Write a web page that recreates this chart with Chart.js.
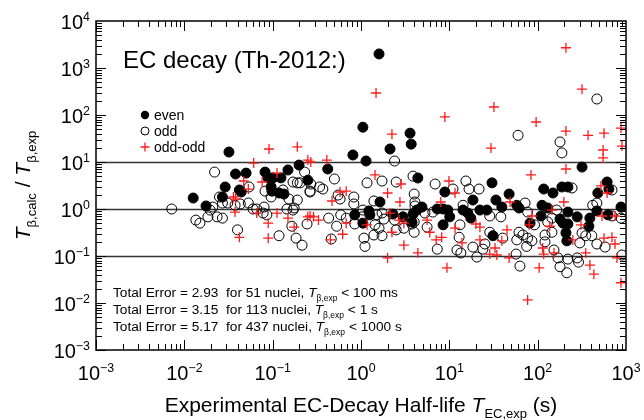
<!DOCTYPE html>
<html>
<head>
<meta charset="utf-8">
<script src="https://cdn.jsdelivr.net/npm/chart.js@4.4.0/dist/chart.umd.min.js"></script>
<style>
  html, body { margin: 0; padding: 0; background: #fff; }
  #wrap { width: 644px; height: 420px; position: relative; }
</style>
</head>
<body>
<div id="wrap"><canvas id="ecChart"></canvas></div>
<script>
// [T_EC,exp (s), T_calc / T_exp]
const evenPoints = [
  [0.0126, 1.71], [0.0176, 1.16], [0.032, 16.3], [0.038, 5.55], [0.050, 5.8],
  [0.082, 6.1], [0.089, 4.57], [0.101, 4.6], [0.124, 4.6], [0.149, 6.76],
  [0.199, 8.6], [0.25, 4.1], [0.029, 2.94], [0.042, 2.54], [0.044, 2.3],
  [0.096, 2.94], [0.098, 2.4], [0.118, 2.19], [0.134, 2.08], [0.027, 1.8],
  [1.05, 55], [3.59, 41], [2.13, 18.9], [3.7, 24], [0.81, 14.1],
  [1.14, 10.5], [0.42, 7.1], [1.64, 1.41], [0.85, 0.75], [1.23, 0.91],
  [1.26, 0.75], [2.3, 0.78], [2.99, 0.68], [1.05, 0.5], [3.77, 0.53],
  [1.6, 1990], [4.4, 4.57], [8.9, 2.3], [30.4, 3.6], [18.5, 1.55],
  [33.7, 1.55], [47.5, 2.08], [4.9, 1.1], [4.3, 0.95], [3.88, 0.78],
  [7.3, 1.0], [8.5, 1.0], [9.6, 0.95], [10.1, 0.68], [8.5, 0.46],
  [14.3, 0.95], [16.2, 0.82], [17.5, 0.64], [22.2, 0.95], [26.6, 0.95],
  [39.3, 1.1], [31.2, 0.27], [318, 7.8], [117, 2.66], [149, 2.19],
  [188, 2.94], [220, 2.94], [611, 3.75], [640, 2.66], [480, 2.19],
  [58, 1.2], [61.5, 1.05], [112, 1.2], [130, 1.05], [109, 0.71],
  [220, 0.86], [179, 0.61], [280, 0.68], [390, 0.64], [468, 0.91],
  [625, 0.75], [878, 1.1], [82, 0.5], [193, 0.5], [220, 0.48],
  [380, 0.43], [209, 0.31], [214, 0.21]
];

const oddPoints = [
  [0.0072, 1.0], [0.0135, 0.58], [0.015, 0.5], [0.022, 6.1], [0.17, 3.75],
  [0.19, 3.6], [0.204, 3.6], [0.23, 6.1], [0.054, 2.94], [0.082, 2.4],
  [0.096, 1.8], [0.131, 2.54], [0.153, 1.63], [0.19, 1.55], [0.265, 2.3],
  [0.025, 1.8], [0.031, 1.34], [0.0375, 1.2], [0.043, 1.28], [0.053, 1.34],
  [0.027, 1.34], [0.021, 1.1], [0.0196, 0.95], [0.0185, 0.68], [0.0235, 0.68],
  [0.027, 0.64], [0.06, 1.0], [0.066, 1.0], [0.08, 1.1], [0.078, 0.82],
  [0.086, 0.75], [0.145, 1.0], [0.17, 0.95], [0.175, 1.05], [0.245, 0.48],
  [0.04, 0.36], [0.118, 0.27], [0.165, 0.43], [0.184, 0.24], [0.215, 0.17],
  [2.4, 10.5], [0.50, 4.35], [1.17, 3.6], [1.73, 3.94], [2.5, 3.75],
  [0.27, 3.4], [0.34, 2.94], [0.265, 2.4], [0.37, 2.66], [0.55, 1.98],
  [0.58, 1.63], [0.83, 1.8], [0.83, 1.28], [1.4, 1.48], [4.08, 1.41],
  [0.43, 0.64], [0.53, 0.43], [0.59, 0.75], [0.68, 0.64], [0.85, 0.48],
  [1.05, 0.95], [1.03, 0.68], [1.52, 0.75], [1.73, 0.82], [1.82, 0.61],
  [2.4, 0.58], [1.44, 0.46], [1.6, 0.39], [1.4, 0.28], [1.73, 0.27],
  [2.5, 0.36], [3.06, 0.39], [3.77, 0.48], [1.08, 0.24], [1.11, 0.16],
  [0.46, 0.23], [60, 37], [3.88, 5.0], [4.0, 2.08], [6.9, 3.4],
  [11, 2.66], [15.4, 3.94], [16.7, 2.66], [21.7, 2.66], [4.08, 1.16],
  [6.5, 0.86], [5.3, 0.82], [5.6, 0.41], [7.3, 0.14], [4.0, 0.53],
  [4.0, 0.32], [14.3, 1.2], [28.7, 0.71], [38.3, 0.68], [13.2, 0.46],
  [12.9, 0.25], [12.2, 0.134], [13.5, 0.116], [18.5, 0.155], [20.5, 0.095],
  [28.7, 0.32], [25.3, 0.18], [24, 0.14], [40.3, 0.24], [58, 0.22],
  [57, 0.11], [63, 0.061], [179, 26.7], [188, 15.6], [245, 2.8],
  [694, 2.54], [72, 1.34], [77, 0.86], [164, 0.95], [145, 0.64],
  [420, 1.2], [468, 1.34], [878, 0.64], [694, 0.71], [92, 0.46],
  [130, 0.53], [318, 0.31], [145, 0.32], [61.5, 0.32], [68, 0.28],
  [77, 0.24], [86, 0.21], [75, 0.16], [121, 0.28], [121, 0.2],
  [153, 0.134], [300, 0.19], [350, 0.27], [410, 0.27], [468, 0.18],
  [580, 0.155], [170, 0.091], [220, 0.086], [280, 0.091], [290, 0.074],
  [179, 0.059], [214, 0.044], [900, 0.105], [468, 219]
];

const oddOddPoints = [
  [0.091, 18.9], [0.19, 21], [0.061, 9.5], [0.25, 11], [0.047, 3.94],
  [0.112, 5.8], [0.076, 3.75], [0.053, 2.66], [0.036, 1.8], [0.038, 1.63],
  [0.0375, 0.86], [0.066, 0.82], [0.112, 0.82], [0.149, 0.64], [0.25, 0.68],
  [0.089, 0.5], [0.042, 0.25], [0.089, 0.24], [0.175, 0.41],
  [2.24, 39], [0.27, 10], [0.41, 11], [1.44, 5.3], [2.84, 3.4],
  [0.58, 2.3], [0.68, 2.4], [0.47, 1.48], [2.0, 2.19], [2.76, 1.41],
  [0.265, 0.71], [0.29, 0.68], [0.33, 0.58], [0.68, 0.5], [2.13, 0.82],
  [2.7, 0.58], [3.06, 0.5], [1.17, 0.46], [2.24, 0.32], [0.45, 0.22],
  [0.62, 0.29], [3.06, 0.17], [2.0, 0.091],
  [8.9, 91], [29.6, 19.8], [9.9, 3.94], [11.6, 2.19], [48.7, 1.41],
  [8.0, 1.41], [5.6, 0.58], [6.0, 0.32], [7.1, 0.22], [8.2, 0.25],
  [4.4, 0.116], [9.4, 0.056], [11.6, 0.39], [13.9, 0.19], [20, 0.48],
  [22.2, 0.41], [22.2, 0.22], [28.7, 0.11], [32.9, 0.148], [34.5, 0.105],
  [39.3, 0.21], [45, 0.36], [47.5, 0.091],
  [96, 71], [209, 45.5], [372, 37], [564, 41], [550, 18],
  [550, 12.2], [878, 52.7], [900, 21.8], [84, 5.3], [209, 7.1],
  [520, 3.1], [611, 2.19], [198, 1.41], [86, 0.71], [145, 0.95],
  [535, 0.71], [750, 0.71], [80, 0.46], [137, 0.43], [309, 0.46],
  [114, 0.148], [117, 0.11], [250, 0.22], [564, 0.24], [694, 0.25],
  [750, 0.18], [350, 0.116], [153, 0.116], [104, 0.056], [390, 0.064],
  [433, 0.041], [790, 0.091], [878, 0.027], [77, 0.0116],
  [209, 2700], [318, 355], [32, 148], [1.48, 294]
];

const xDecades = [-3, -2, -1, 0, 1, 2, 3];
const yDecades = [-3, -2, -1, 0, 1, 2, 3, 4];
const refLines = [0.1, 1, 10];
const legendLabels = ["even", "odd", "odd-odd"];
const plotLabel = "EC decay (Th-2012:)";
const errorLines = [
  ["Total Error = 2.93  for 51 nuclei, ", " < 100 ms"],
  ["Total Error = 3.15  for 113 nuclei, ", " < 1 s"],
  ["Total Error = 5.17  for 437 nuclei, ", " < 1000 s"]
];

const FONT = '"Liberation Sans", Arial, Helvetica, sans-serif';
const RED = "#ff1a1a";

function toXY(list) {
  return list.map(p => ({ x: p[0], y: p[1] }));
}

// draws a run of text pieces, some italic / sub / superscript
function drawRich(ctx, parts, x, y, size, align) {
  const pieces = parts.map(p => {
    const s = p.sub || p.sup ? size * 0.62 : size;
    const font = (p.italic ? "italic " : "") + s.toFixed(1) + "px " + FONT;
    ctx.font = font;
    return {
      t: p.t,
      font: font,
      w: ctx.measureText(p.t).width,
      dy: p.sub ? size * 0.3 : p.sup ? -size * 0.42 : 0
    };
  });
  const total = pieces.reduce((a, p) => a + p.w, 0);
  let cx = x;
  if (align === "center") cx = x - total / 2;
  if (align === "right") cx = x - total;
  ctx.textAlign = "left";
  ctx.textBaseline = "alphabetic";
  for (const p of pieces) {
    ctx.font = p.font;
    ctx.fillText(p.t, cx, y + p.dy);
    cx += p.w;
  }
}

function expText(d) {
  return d < 0 ? "\u2212" + Math.abs(d) : String(d);
}

const decorations = {
  id: "decorations",
  beforeDatasetsDraw(chart) {
    const { ctx, chartArea: a, scales } = chart;
    ctx.save();
    ctx.strokeStyle = "#333";
    ctx.lineWidth = 1.5;
    for (const v of refLines) {
      const py = Math.round(scales.y.getPixelForValue(v)) + 0.5;
      ctx.beginPath();
      ctx.moveTo(a.left, py);
      ctx.lineTo(a.right, py);
      ctx.stroke();
    }
    ctx.restore();
  },
  afterDraw(chart) {
    const { ctx, chartArea: a, scales } = chart;
    const xs = scales.x, ys = scales.y;
    ctx.save();
    ctx.fillStyle = "#000";
    ctx.strokeStyle = "#000";

    // frame
    ctx.lineWidth = 1.5;
    ctx.strokeRect(a.left, a.top, a.right - a.left, a.bottom - a.top);

    // inward ticks, all four sides
    ctx.lineWidth = 1;
    ctx.beginPath();
    for (let i = 0; i < xDecades.length - 1; i++) {
      for (let m = 1; m < 10; m++) {
        const px = Math.round(xs.getPixelForValue(m * Math.pow(10, xDecades[i]))) + 0.5;
        const len = m === 1 ? 10 : 6;
        ctx.moveTo(px, a.bottom); ctx.lineTo(px, a.bottom - len);
        ctx.moveTo(px, a.top); ctx.lineTo(px, a.top + len);
      }
    }
    for (let i = 0; i < yDecades.length - 1; i++) {
      for (let m = 1; m < 10; m++) {
        const py = Math.round(ys.getPixelForValue(m * Math.pow(10, yDecades[i]))) + 0.5;
        const len = m === 1 ? 10 : 6;
        ctx.moveTo(a.left, py); ctx.lineTo(a.left + len, py);
        ctx.moveTo(a.right, py); ctx.lineTo(a.right - len, py);
      }
    }
    ctx.stroke();

    // tick labels
    for (const d of xDecades) {
      const px = xs.getPixelForValue(Math.pow(10, d));
      drawRich(ctx, [{ t: "10" }, { t: expText(d), sup: true }], px, a.bottom + 30, 20, "center");
    }
    for (const d of yDecades) {
      const py = ys.getPixelForValue(Math.pow(10, d));
      drawRich(ctx, [{ t: "10" }, { t: expText(d), sup: true }], a.left - 6, py + 8, 20, "right");
    }

    // axis titles
    drawRich(ctx, [
      { t: "Experimental EC-Decay Half-life " },
      { t: "T", italic: true },
      { t: "EC,exp", sub: true },
      { t: " (s)" }
    ], (a.left + a.right) / 2, 412, 21, "center");

    ctx.save();
    ctx.translate(30, (a.top + a.bottom) / 2);
    ctx.rotate(-Math.PI / 2);
    drawRich(ctx, [
      { t: "T", italic: true },
      { t: "\u03b2,calc", sub: true },
      { t: " / " },
      { t: "T", italic: true },
      { t: "\u03b2,exp", sub: true }
    ], 0, 0, 21, "center");
    ctx.restore();

    // plot label
    drawRich(ctx, [{ t: plotLabel }], a.left + 27, a.top + 47, 24, "left");

    // legend
    const lx = a.left + 49, ly = a.top + 94;
    legendLabels.forEach((lab, i) => {
      const y = ly + i * 16;
      ctx.lineWidth = 1;
      if (i === 0) {
        ctx.beginPath(); ctx.arc(lx, y, 4.2, 0, Math.PI * 2); ctx.fill();
      } else if (i === 1) {
        ctx.beginPath(); ctx.arc(lx, y, 4, 0, Math.PI * 2); ctx.stroke();
      } else {
        ctx.strokeStyle = RED;
        ctx.lineWidth = 1.3;
        ctx.beginPath();
        ctx.moveTo(lx - 4.5, y); ctx.lineTo(lx + 4.5, y);
        ctx.moveTo(lx, y - 4.5); ctx.lineTo(lx, y + 4.5);
        ctx.stroke();
        ctx.strokeStyle = "#000";
      }
      drawRich(ctx, [{ t: lab }], lx + 9, y + 5, 14, "left");
    });

    // error summary
    errorLines.forEach((ln, i) => {
      drawRich(ctx, [
        { t: ln[0] },
        { t: "T", italic: true },
        { t: "\u03b2,exp", sub: true },
        { t: ln[1] }
      ], a.left + 17, a.top + 276 + i * 17, 13.7, "left");
    });

    ctx.restore();
  }
};

new Chart(document.getElementById("ecChart"), {
  type: "scatter",
  data: {
    datasets: [
      {
        label: legendLabels[0],
        data: toXY(evenPoints),
        pointStyle: "circle",
        pointRadius: 5,
        backgroundColor: "#000",
        borderColor: "#000",
        borderWidth: 1,
        order: 2
      },
      {
        label: legendLabels[1],
        data: toXY(oddPoints),
        pointStyle: "circle",
        pointRadius: 5,
        backgroundColor: "rgba(0,0,0,0)",
        borderColor: "#000",
        borderWidth: 1,
        order: 3
      },
      {
        label: legendLabels[2],
        data: toXY(oddOddPoints),
        pointStyle: "cross",
        pointRadius: 5,
        borderColor: RED,
        borderWidth: 1.3,
        order: 1
      }
    ]
  },
  options: {
    responsive: true,
    maintainAspectRatio: false,
    animation: false,
    layout: { padding: { left: 96, right: 18, top: 21, bottom: 70 } },
    plugins: { legend: { display: false }, tooltip: { enabled: false } },
    scales: {
      x: { type: "logarithmic", min: 1e-3, max: 1e3, display: false },
      y: { type: "logarithmic", min: 1e-3, max: 1e4, display: false }
    }
  },
  plugins: [decorations]
});
</script>
</body>
</html>
